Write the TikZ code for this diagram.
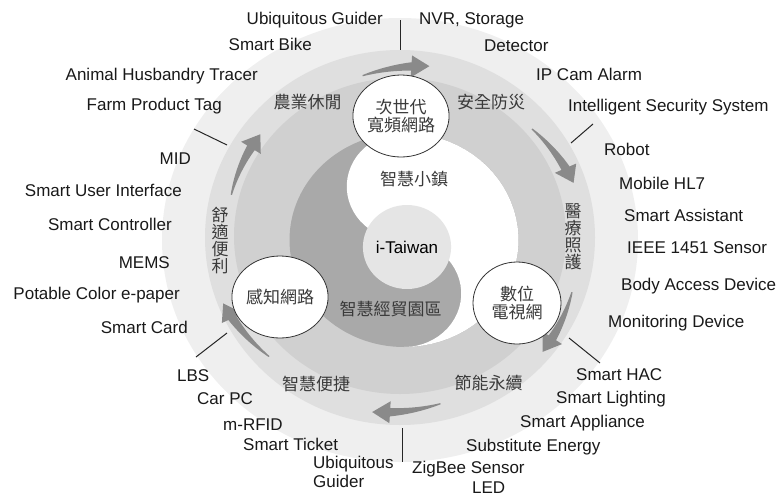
\documentclass[tikz,border=0pt]{standalone}
\usepackage{fontspec}
\setmainfont{Liberation Sans}
\newfontfamily\cjk{Noto Sans CJK TC}
\usetikzlibrary{shapes.geometric}
\definecolor{ringA}{HTML}{EFEFEF}
\definecolor{ringB}{HTML}{DFDFDF}
\definecolor{ringC}{HTML}{D0D0D0}
\definecolor{darkc}{HTML}{A9A9A9}
\definecolor{arrowc}{HTML}{8A8A8A}
\definecolor{itw}{HTML}{E5E5E5}
\definecolor{cjkgray}{HTML}{3A3A3A}
\newcommand\swoosh[4]{%
  \pgfmathsetmacro\hb{#2+5.5}%
  \pgfmathsetmacro\rb{#3+(#4-(#3))*(\hb-(#1))/((#2)-(#1))}%
  \fill[arrowc] plot[domain=#1:\hb, samples=24]
    ({400+1.07*(#3+(#4-(#3))*(\x-(#1))/((#2)-(#1))+0.6+3.6*(\x-(#1))/(\hb-(#1)))*cos(\x)},
     {240-(#3+(#4-(#3))*(\x-(#1))/((#2)-(#1))+0.6+3.6*(\x-(#1))/(\hb-(#1)))*sin(\x)})
    -- ({400+1.07*(\rb+11)*cos(\hb)},{240-(\rb+11)*sin(\hb)})
    -- ({400+1.07*(#4)*cos(#2)},{240-(#4)*sin(#2)})
    -- ({400+1.07*(\rb-11)*cos(\hb)},{240-(\rb-11)*sin(\hb)})
    -- plot[domain=\hb:#1, samples=24]
    ({400+1.07*(#3+(#4-(#3))*(\x-(#1))/((#2)-(#1))-0.6-3.6*(\x-(#1))/(\hb-(#1)))*cos(\x)},
     {240-(#3+(#4-(#3))*(\x-(#1))/((#2)-(#1))-0.6-3.6*(\x-(#1))/(\hb-(#1)))*sin(\x)})
    -- cycle;}
\begin{document}
\begin{tikzpicture}[x=1pt,y=-1pt,
  lab/.style={font=\fontsize{17}{17}\selectfont, text=black!90, inner sep=0pt},
  cjklab/.style={font=\cjk\fontsize{17}{17}\selectfont, text=cjkgray, inner sep=0pt, align=center},
  hub/.style={ellipse, draw=black!80, line width=0.8pt, fill=white, minimum width=88pt,
    minimum height=82pt, inner sep=0pt, align=center, font=\cjk\fontsize{17}{18.5}\selectfont, text=cjkgray},
  tickline/.style={draw=black!85, line width=1pt}]
\useasboundingbox (0,0) rectangle (779,496);
% rings
\fill[ringA] (400,240) ellipse[x radius=238, y radius=222];
\fill[ringB] (400,237.5) ellipse[x radius=195, y radius=187.5];
\fill[ringC] (400,236) ellipse[x radius=166, y radius=158];
% yin-yang
\fill[darkc] (404,240) ellipse[x radius=114.5, y radius=107];
\fill[white] plot[domain=90:-90, samples=40] ({404+1.07*107*cos(\x)},{240-107*sin(\x)})
  -- plot[domain=-90:90, samples=30] ({404+1.07*53.5*cos(\x)},{240-(-53.5+53.5*sin(\x))})
  -- plot[domain=-90:-270, samples=30] ({404+1.07*53.5*cos(\x)},{240-(53.5+53.5*sin(\x))})
  -- cycle;
% tick lines
\coordinate (t1a) at (400,20); \coordinate (t1b) at (400,50);
\coordinate (t2a) at (593,124); \coordinate (t2b) at (571,143);
\coordinate (t3a) at (569,338); \coordinate (t3b) at (600,363);
\coordinate (t4a) at (402,428); \coordinate (t4b) at (402,462);
\coordinate (t5a) at (227,333); \coordinate (t5b) at (196,357);
\coordinate (t6a) at (194,129); \coordinate (t6b) at (227,145);
\draw[tickline] (t1a) -- (t1b);
\draw[tickline] (t2a) -- (t2b);
\draw[tickline] (t3a) -- (t3b);
\draw[tickline] (t4a) -- (t4b);
\draw[tickline] (t5a) -- (t5b);
\draw[tickline] (t6a) -- (t6b);
% arrows
\swoosh{102}{81}{168}{176}
\swoosh{42}{19.4}{166}{172}
\swoosh{-18}{-40}{169}{174}
\swoosh{-77}{-98.6}{168}{174}
\swoosh{-136.4}{-159}{169}{177}
\swoosh{164}{141}{164}{168}
% hubs
\node[hub] (bb) at (401,116) {次世代\\寬頻網路};
\node[hub] (dtv) at (517,303) {數位\\電視網};
\node[hub] (sn) at (280,297) {感知網路};
\node[ellipse, fill=itw, minimum width=88pt, minimum height=84pt, inner sep=0pt,
  font=\fontsize{17}{17}\selectfont] (itw) at (407,247) {i-Taiwan};
% domain labels
\node[cjklab] (d1) at (307.5,102) {農業休閒};
\node[cjklab] (d2) at (491,102) {安全防災};
\node[cjklab] (d3) at (488.5,383) {節能永續};
\node[cjklab] (d4) at (316,384) {智慧便捷};
\node[cjklab] (d5) at (414,179) {智慧小鎮};
\node[cjklab] (d6) at (390.5,309) {智慧經貿園區};
\node[cjklab] (d7) at (220,240) {舒\\適\\便\\利};
\node[cjklab] (d8) at (573,237) {醫\\療\\照\\護};
% left labels
\node[lab, anchor=base east] (l1) at (383,24) {Ubiquitous Guider};
\node[lab, anchor=base east] (l2) at (312,50) {Smart Bike};
\node[lab, anchor=base east] (l3) at (258,80) {Animal Husbandry Tracer};
\node[lab, anchor=base east] (l4) at (222,110) {Farm Product Tag};
\node[lab, anchor=base east] (l5) at (191,164) {MID};
\node[lab, anchor=base east] (l6) at (182,196) {Smart User Interface};
\node[lab, anchor=base east] (l7) at (172,230) {Smart Controller};
\node[lab, anchor=base east] (l8) at (170,268) {MEMS};
\node[lab, anchor=base east] (l9) at (180,299) {Potable Color e-paper};
\node[lab, anchor=base east] (l10) at (188,333) {Smart Card};
\node[lab, anchor=base west] (l11) at (177,381) {LBS};
\node[lab, anchor=base west] (l12) at (197,404) {Car PC};
\node[lab, anchor=base west] (l13) at (223,430) {m-RFID};
\node[lab, anchor=base west] (l14) at (243,450) {Smart Ticket};
\node[lab, anchor=base west] (l15) at (313,468) {Ubiquitous};
\node[lab, anchor=base west] (l16) at (313,487) {Guider};
% right labels
\node[lab, anchor=base west] (r1) at (419,24) {NVR, Storage};
\node[lab, anchor=base west] (r2) at (484,51) {Detector};
\node[lab, anchor=base west] (r3) at (536,80) {IP Cam Alarm};
\node[lab, anchor=base west] (r4) at (568,111) {Intelligent Security System};
\node[lab, anchor=base west] (r5) at (604,155) {Robot};
\node[lab, anchor=base west] (r6) at (619,189) {Mobile HL7};
\node[lab, anchor=base west] (r7) at (624,221) {Smart Assistant};
\node[lab, anchor=base west] (r8) at (627,253) {IEEE 1451 Sensor};
\node[lab, anchor=base west] (r9) at (621,290) {Body Access Device};
\node[lab, anchor=base west] (r10) at (608,327) {Monitoring Device};
\node[lab, anchor=base west] (r11) at (576,380) {Smart HAC};
\node[lab, anchor=base west] (r12) at (556,403) {Smart Lighting};
\node[lab, anchor=base west] (r13) at (520,427) {Smart Appliance};
\node[lab, anchor=base west] (r14) at (466,451) {Substitute Energy};
\node[lab, anchor=base west] (r15) at (412,473) {ZigBee Sensor};
\node[lab, anchor=base west] (r16) at (472,493) {LED};
\end{tikzpicture}
\end{document}
